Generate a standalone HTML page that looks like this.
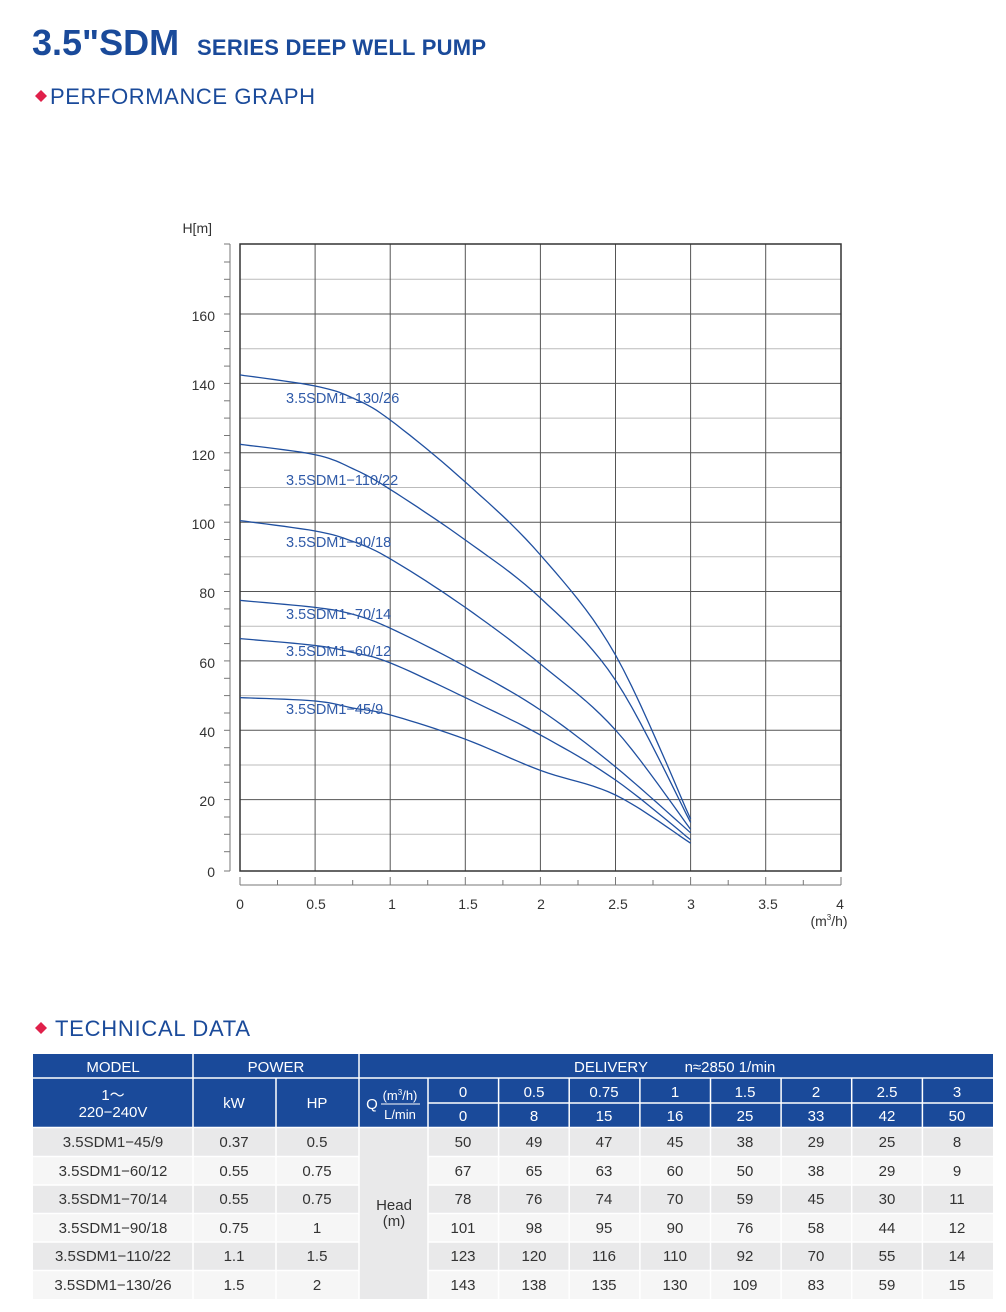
<!DOCTYPE html>
<html><head><meta charset="utf-8"><style>
html,body{margin:0;padding:0;background:#fff;}
svg{display:block;font-family:"Liberation Sans",sans-serif;}
</style></head><body>
<svg width="1006" height="1312" viewBox="0 0 1006 1312">
<text x="32" y="55" font-size="36" font-weight="bold" fill="#1a4a9a">3.5"SDM</text>
<text x="197" y="55" font-size="22" font-weight="bold" fill="#1a4a9a" textLength="289">SERIES DEEP WELL PUMP</text>
<polygon points="41,90 47,96 41,102 35,96" fill="#e0204a"/>
<text x="50" y="104" font-size="22" fill="#1a4a9a" textLength="265">PERFORMANCE GRAPH</text>

<g stroke="#bbb" stroke-width="1">
<line x1="240" y1="279.3" x2="841" y2="279.3"/><line x1="240" y1="348.7" x2="841" y2="348.7"/>
<line x1="240" y1="418.1" x2="841" y2="418.1"/><line x1="240" y1="487.5" x2="841" y2="487.5"/>
<line x1="240" y1="556.8" x2="841" y2="556.8"/><line x1="240" y1="626.2" x2="841" y2="626.2"/>
<line x1="240" y1="695.6" x2="841" y2="695.6"/><line x1="240" y1="765" x2="841" y2="765"/>
<line x1="240" y1="834.3" x2="841" y2="834.3"/>
</g>
<g stroke="#555" stroke-width="1">
<line x1="240" y1="314" x2="841" y2="314"/><line x1="240" y1="383.4" x2="841" y2="383.4"/>
<line x1="240" y1="452.8" x2="841" y2="452.8"/><line x1="240" y1="522.2" x2="841" y2="522.2"/>
<line x1="240" y1="591.5" x2="841" y2="591.5"/><line x1="240" y1="660.9" x2="841" y2="660.9"/>
<line x1="240" y1="730.3" x2="841" y2="730.3"/><line x1="240" y1="799.6" x2="841" y2="799.6"/>
<line x1="315.1" y1="244" x2="315.1" y2="871"/><line x1="390.2" y1="244" x2="390.2" y2="871"/>
<line x1="465.3" y1="244" x2="465.3" y2="871"/><line x1="540.4" y1="244" x2="540.4" y2="871"/>
<line x1="615.5" y1="244" x2="615.5" y2="871"/><line x1="690.6" y1="244" x2="690.6" y2="871"/>
<line x1="765.7" y1="244" x2="765.7" y2="871"/>
</g>
<rect x="240" y="244" width="601" height="627" fill="none" stroke="#333" stroke-width="1.5"/>

<g stroke="#777" stroke-width="1">
<line x1="230" y1="244" x2="230" y2="871"/>
<line x1="224" y1="244" x2="230" y2="244"/><line x1="224" y1="262" x2="230" y2="262"/>
<line x1="224" y1="279.3" x2="230" y2="279.3"/><line x1="224" y1="296.7" x2="230" y2="296.7"/>
<line x1="224" y1="314" x2="230" y2="314"/><line x1="224" y1="331.4" x2="230" y2="331.4"/>
<line x1="224" y1="348.7" x2="230" y2="348.7"/><line x1="224" y1="366.1" x2="230" y2="366.1"/>
<line x1="224" y1="383.4" x2="230" y2="383.4"/><line x1="224" y1="400.8" x2="230" y2="400.8"/>
<line x1="224" y1="418.1" x2="230" y2="418.1"/><line x1="224" y1="435.5" x2="230" y2="435.5"/>
<line x1="224" y1="452.8" x2="230" y2="452.8"/><line x1="224" y1="470.2" x2="230" y2="470.2"/>
<line x1="224" y1="487.5" x2="230" y2="487.5"/><line x1="224" y1="504.9" x2="230" y2="504.9"/>
<line x1="224" y1="522.2" x2="230" y2="522.2"/><line x1="224" y1="539.5" x2="230" y2="539.5"/>
<line x1="224" y1="556.8" x2="230" y2="556.8"/><line x1="224" y1="574.2" x2="230" y2="574.2"/>
<line x1="224" y1="591.5" x2="230" y2="591.5"/><line x1="224" y1="608.9" x2="230" y2="608.9"/>
<line x1="224" y1="626.2" x2="230" y2="626.2"/><line x1="224" y1="643.6" x2="230" y2="643.6"/>
<line x1="224" y1="660.9" x2="230" y2="660.9"/><line x1="224" y1="678.3" x2="230" y2="678.3"/>
<line x1="224" y1="695.6" x2="230" y2="695.6"/><line x1="224" y1="713" x2="230" y2="713"/>
<line x1="224" y1="730.3" x2="230" y2="730.3"/><line x1="224" y1="747.7" x2="230" y2="747.7"/>
<line x1="224" y1="765" x2="230" y2="765"/><line x1="224" y1="782.3" x2="230" y2="782.3"/>
<line x1="224" y1="799.6" x2="230" y2="799.6"/><line x1="224" y1="817" x2="230" y2="817"/>
<line x1="224" y1="834.3" x2="230" y2="834.3"/><line x1="224" y1="851.7" x2="230" y2="851.7"/>
<line x1="224" y1="871" x2="230" y2="871"/>
</g>
<g font-size="14" fill="#333" text-anchor="end">
<text x="212" y="233">H[m]</text>
<text x="215" y="321">160</text><text x="215" y="390">140</text><text x="215" y="460">120</text>
<text x="215" y="529">100</text><text x="215" y="598">80</text><text x="215" y="668">60</text>
<text x="215" y="737">40</text><text x="215" y="806">20</text><text x="215" y="877">0</text>
</g>
<g stroke="#777" stroke-width="1">
<line x1="240" y1="885" x2="841" y2="885"/>
<line x1="240" y1="877" x2="240" y2="885"/><line x1="277.5" y1="880" x2="277.5" y2="885"/>
<line x1="315.1" y1="877" x2="315.1" y2="885"/><line x1="352.7" y1="880" x2="352.7" y2="885"/>
<line x1="390.2" y1="877" x2="390.2" y2="885"/><line x1="427.7" y1="880" x2="427.7" y2="885"/>
<line x1="465.3" y1="877" x2="465.3" y2="885"/><line x1="502.9" y1="880" x2="502.9" y2="885"/>
<line x1="540.4" y1="877" x2="540.4" y2="885"/><line x1="578" y1="880" x2="578" y2="885"/>
<line x1="615.5" y1="877" x2="615.5" y2="885"/><line x1="653" y1="880" x2="653" y2="885"/>
<line x1="690.6" y1="877" x2="690.6" y2="885"/><line x1="728.2" y1="880" x2="728.2" y2="885"/>
<line x1="765.7" y1="877" x2="765.7" y2="885"/><line x1="803.3" y1="880" x2="803.3" y2="885"/>
<line x1="841" y1="877" x2="841" y2="885"/>
</g>
<g font-size="14" fill="#333" text-anchor="middle">
<text x="240" y="909">0</text><text x="316" y="909">0.5</text><text x="392" y="909">1</text>
<text x="468" y="909">1.5</text><text x="541" y="909">2</text><text x="618" y="909">2.5</text>
<text x="691" y="909">3</text><text x="768" y="909">3.5</text><text x="840" y="909">4</text>
<text x="829" y="926">(m<tspan font-size="8" dy="-6">3</tspan><tspan dy="6">/h)</tspan></text>
</g>

<g id="curves" fill="none" stroke="#2050a0" stroke-width="1.3">
<polyline points="240,697.6 315.1,701 352.7,708 390.2,714.9 465.3,739.2 540.4,770.4 615.5,795 690.6,843.2"/>
<polyline points="240,638.6 315.1,645.5 352.7,652.5 390.2,662.9 465.3,697.6 540.4,735 615.5,780 690.6,839.8"/>
<polyline points="240,600.4 315.1,607.4 352.7,614.3 390.2,628.2 465.3,666.3 540.4,710 615.5,766.9 690.6,832.8"/>
<polyline points="240,520.6 315.1,531 352.7,541.4 390.2,558.8 465.3,607.4 540.4,664 615.5,730 690.6,829.4"/>
<polyline points="240,444.3 315.1,454.7 352.7,468.6 390.2,489.4 465.3,540 540.4,598 615.5,680.2 690.6,822.4"/>
<polyline points="240,374.9 315.1,386 352.7,398 390.2,420 465.3,482 540.4,555 615.5,655 690.6,819"/>
</g>
<g font-size="14.5" fill="#2f5aa8">
<text x="286" y="403">3.5SDM1−130/26</text>
<text x="286" y="485">3.5SDM1−110/22</text>
<text x="286" y="547">3.5SDM1−90/18</text>
<text x="286" y="619">3.5SDM1−70/14</text>
<text x="286" y="656">3.5SDM1−60/12</text>
<text x="286" y="714">3.5SDM1−45/9</text>
</g>

<polygon points="41,1022 47,1028 41,1034 35,1028" fill="#e0204a"/>
<text x="55" y="1036" font-size="22" fill="#1a4a9a" textLength="195">TECHNICAL DATA</text>

<rect x="33" y="1054" width="960" height="73" fill="#1a4a9a"/>
<rect x="33" y="1128" width="395" height="28.5" fill="#e9e9ea"/>
<rect x="33" y="1156.5" width="395" height="28.5" fill="#f6f6f6"/>
<rect x="33" y="1185" width="395" height="28.5" fill="#e9e9ea"/>
<rect x="33" y="1213.5" width="395" height="28.5" fill="#f6f6f6"/>
<rect x="33" y="1242" width="395" height="28.5" fill="#e9e9ea"/>
<rect x="33" y="1270.5" width="395" height="28.5" fill="#f6f6f6"/>
<rect x="428" y="1128" width="565" height="28.5" fill="#e9e9ea"/>
<rect x="428" y="1156.5" width="565" height="28.5" fill="#f6f6f6"/>
<rect x="428" y="1185" width="565" height="28.5" fill="#e9e9ea"/>
<rect x="428" y="1213.5" width="565" height="28.5" fill="#f6f6f6"/>
<rect x="428" y="1242" width="565" height="28.5" fill="#e9e9ea"/>
<rect x="428" y="1270.5" width="565" height="28.5" fill="#f6f6f6"/>
<rect x="359" y="1128" width="69" height="171" fill="#e9e9ea"/>
<g stroke="#fff" stroke-width="1.5">
<line x1="33" y1="1078" x2="993" y2="1078"/>
<line x1="428" y1="1103" x2="993" y2="1103"/>
<line x1="33" y1="1127.5" x2="993" y2="1127.5"/>
<line x1="33" y1="1156.5" x2="359" y2="1156.5"/><line x1="428" y1="1156.5" x2="993" y2="1156.5"/>
<line x1="33" y1="1185" x2="359" y2="1185"/><line x1="428" y1="1185" x2="993" y2="1185"/>
<line x1="33" y1="1213.5" x2="359" y2="1213.5"/><line x1="428" y1="1213.5" x2="993" y2="1213.5"/>
<line x1="33" y1="1242" x2="359" y2="1242"/><line x1="428" y1="1242" x2="993" y2="1242"/>
<line x1="33" y1="1270.5" x2="359" y2="1270.5"/><line x1="428" y1="1270.5" x2="993" y2="1270.5"/>
<line x1="193" y1="1054" x2="193" y2="1299"/><line x1="359" y1="1054" x2="359" y2="1299"/>
<line x1="276" y1="1078" x2="276" y2="1299"/><line x1="428" y1="1078" x2="428" y2="1299"/>
<line x1="498.6" y1="1078" x2="498.6" y2="1299"/><line x1="569.2" y1="1078" x2="569.2" y2="1299"/>
<line x1="639.9" y1="1078" x2="639.9" y2="1299"/><line x1="710.5" y1="1078" x2="710.5" y2="1299"/>
<line x1="781.1" y1="1078" x2="781.1" y2="1299"/><line x1="851.7" y1="1078" x2="851.7" y2="1299"/>
<line x1="922.4" y1="1078" x2="922.4" y2="1299"/>
</g>
<g font-size="15" fill="#fff" text-anchor="middle">
<text x="113" y="1072">MODEL</text><text x="276" y="1072">POWER</text>
<text x="611" y="1072">DELIVERY</text><text x="730" y="1072">n≈2850 1/min</text>
<text x="113" y="1100">1～</text><text x="113" y="1117">220−240V</text>
<text x="234" y="1108">kW</text><text x="317" y="1108">HP</text>
<text x="372" y="1109">Q</text>
<text x="400" y="1100" font-size="13">(m<tspan font-size="8" dy="-5">3</tspan><tspan dy="5">/h)</tspan></text>
<line x1="381" y1="1104" x2="420" y2="1104" stroke="#fff" stroke-width="1"/>
<text x="400" y="1119" font-size="13">L/min</text>
<text x="463" y="1097">0</text><text x="534" y="1097">0.5</text><text x="604" y="1097">0.75</text><text x="675" y="1097">1</text><text x="745" y="1097">1.5</text><text x="816" y="1097">2</text><text x="887" y="1097">2.5</text><text x="957" y="1097">3</text>
<text x="463" y="1121">0</text><text x="534" y="1121">8</text><text x="604" y="1121">15</text><text x="675" y="1121">16</text><text x="745" y="1121">25</text><text x="816" y="1121">33</text><text x="887" y="1121">42</text><text x="957" y="1121">50</text>
</g>
<g font-size="15" fill="#333" text-anchor="middle">
<text x="394" y="1210">Head</text><text x="394" y="1226">(m)</text>
<text x="113" y="1147">3.5SDM1−45/9</text><text x="234" y="1147">0.37</text><text x="317" y="1147">0.5</text>
<text x="463" y="1147">50</text><text x="534" y="1147">49</text><text x="604" y="1147">47</text><text x="675" y="1147">45</text><text x="745" y="1147">38</text><text x="816" y="1147">29</text><text x="887" y="1147">25</text><text x="957" y="1147">8</text>
<text x="113" y="1176">3.5SDM1−60/12</text><text x="234" y="1176">0.55</text><text x="317" y="1176">0.75</text>
<text x="463" y="1176">67</text><text x="534" y="1176">65</text><text x="604" y="1176">63</text><text x="675" y="1176">60</text><text x="745" y="1176">50</text><text x="816" y="1176">38</text><text x="887" y="1176">29</text><text x="957" y="1176">9</text>
<text x="113" y="1204">3.5SDM1−70/14</text><text x="234" y="1204">0.55</text><text x="317" y="1204">0.75</text>
<text x="463" y="1204">78</text><text x="534" y="1204">76</text><text x="604" y="1204">74</text><text x="675" y="1204">70</text><text x="745" y="1204">59</text><text x="816" y="1204">45</text><text x="887" y="1204">30</text><text x="957" y="1204">11</text>
<text x="113" y="1233">3.5SDM1−90/18</text><text x="234" y="1233">0.75</text><text x="317" y="1233">1</text>
<text x="463" y="1233">101</text><text x="534" y="1233">98</text><text x="604" y="1233">95</text><text x="675" y="1233">90</text><text x="745" y="1233">76</text><text x="816" y="1233">58</text><text x="887" y="1233">44</text><text x="957" y="1233">12</text>
<text x="113" y="1261">3.5SDM1−110/22</text><text x="234" y="1261">1.1</text><text x="317" y="1261">1.5</text>
<text x="463" y="1261">123</text><text x="534" y="1261">120</text><text x="604" y="1261">116</text><text x="675" y="1261">110</text><text x="745" y="1261">92</text><text x="816" y="1261">70</text><text x="887" y="1261">55</text><text x="957" y="1261">14</text>
<text x="113" y="1290">3.5SDM1−130/26</text><text x="234" y="1290">1.5</text><text x="317" y="1290">2</text>
<text x="463" y="1290">143</text><text x="534" y="1290">138</text><text x="604" y="1290">135</text><text x="675" y="1290">130</text><text x="745" y="1290">109</text><text x="816" y="1290">83</text><text x="887" y="1290">59</text><text x="957" y="1290">15</text>
</g>
</svg>
<script>
(function(){
var pls=document.querySelectorAll('#curves polyline');
for(var k=0;k!==pls.length;k++){
 var pl=pls[k];
 var P=pl.getAttribute('points').trim().split(/\s+/).map(function(s){return s.split(',').map(Number);});
 var out=[];
 var n=P.length;
 for(var i=0;i!==n-1;i++){
  var p0=P[Math.max(i-1,0)],p1=P[i],p2=P[i+1],p3=P[Math.min(i+2,n-1)];
  for(var s=0;s!==10;s++){
   var t=s/10,t2=t*t,t3=t2*t;
   var x=0.5*((2*p1[0])+(-p0[0]+p2[0])*t+(2*p0[0]-5*p1[0]+4*p2[0]-p3[0])*t2+(-p0[0]+3*p1[0]-3*p2[0]+p3[0])*t3);
   var y=0.5*((2*p1[1])+(-p0[1]+p2[1])*t+(2*p0[1]-5*p1[1]+4*p2[1]-p3[1])*t2+(-p0[1]+3*p1[1]-3*p2[1]+p3[1])*t3);
   out.push(x.toFixed(1)+','+y.toFixed(1));
  }
 }
 out.push(P[n-1].join(','));
 pl.setAttribute('points',out.join(' '));
}
})();
</script>
</body></html>
